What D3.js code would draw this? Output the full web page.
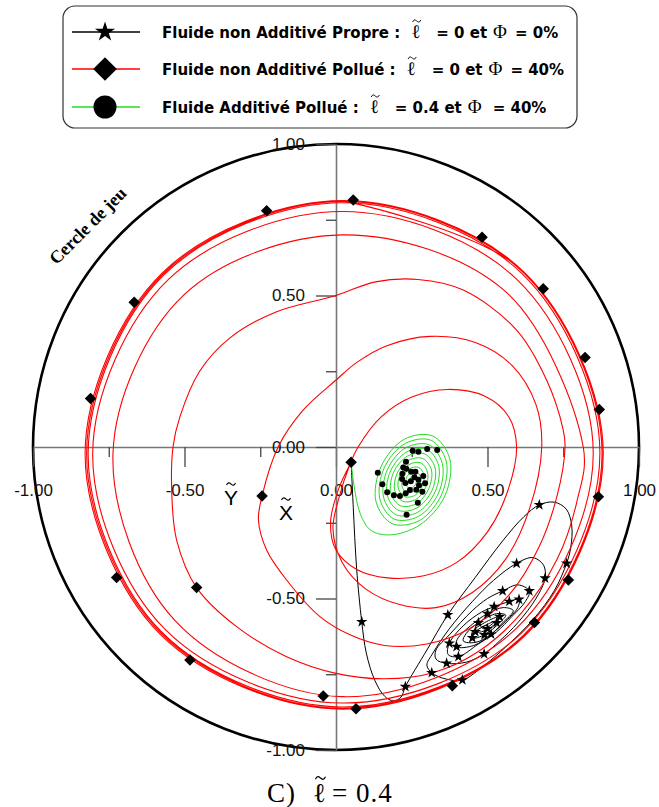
<!DOCTYPE html>
<html><head><meta charset="utf-8">
<script src="https://cdn.jsdelivr.net/npm/d3@7"></script>
<style>
body{margin:0;background:#fff;}
svg{display:block;}
text{white-space:pre;}
</style></head><body>
<svg id="chart" width="659" height="807"></svg>
<script>
// ---- Journal-centre orbits inside the clearance circle (units of clearance) ----

// Axis ticks
const majorTicks = [-1, -0.5, 0, 0.5, 1];
const majorTickLabels = ["-1.00", "-0.50", "0.00", "0.50", "1.00"];
const minorTicks = [-0.75, -0.25, 0.25, 0.75];

// Non-additive, polluted fluid (red orbit, growing towards a large whirl)
const orbitPolluted = [
  [0.05,-0.05],[0.008,-0.14],[-0.018,-0.25],[0.0,-0.34],[0.07,-0.405],[0.17,-0.432],[0.29,-0.425],[0.40,-0.38],[0.50,-0.28],[0.565,-0.15],[0.596,0],[0.57,0.10],[0.49,0.168],[0.37,0.19],[0.25,0.165],[0.15,0.10],[0.073,0],[0.045,-0.06],
  [0.012,-0.16],[-0.01,-0.27],[0.02,-0.38],[0.10,-0.47],[0.21,-0.52],[0.33,-0.53],[0.45,-0.48],[0.56,-0.37],[0.64,-0.20],[0.679,0],[0.66,0.14],[0.58,0.27],[0.46,0.345],[0.31,0.365],[0.17,0.335],[0.07,0.28],[0,0.221],[-0.11,0.12],[-0.191,0],[-0.244,-0.162],[-0.256,-0.241],[-0.229,-0.34],[-0.163,-0.439],[-0.053,-0.56],[0.046,-0.62],[0.16,-0.655],[0.30,-0.65],[0.44,-0.60],[0.57,-0.49],[0.67,-0.33],[0.73,-0.16],[0.756,0],
  [0.75,0.056],[0.695,0.221],[0.596,0.386],[0.42,0.518],[0.27,0.553],[0.13,0.545],[0,0.50],[-0.2,0.445],[-0.35,0.36],[-0.45,0.25],[-0.515,0.1],[-0.538,0],[-0.542,-0.15],[-0.526,-0.307],[-0.46,-0.464],[-0.328,-0.593],[-0.163,-0.692],[0,-0.747],[0.16,-0.765],[0.32,-0.745],[0.47,-0.675],[0.61,-0.55],[0.73,-0.37],[0.795,-0.18],[0.816,0],
  [0.556,0.516],[0.02,0.70],[-0.502,0.502],[-0.736,-0.02],[-0.532,-0.572],[0.02,-0.824],[0.597,-0.597],
  [0.849,-0.02],[0.595,0.555],[0.02,0.777],[-0.553,0.553],[-0.803,-0.02],[-0.563,-0.603],[0.02,-0.845],[0.613,-0.613],
  [0.871,-0.02],[0.613,0.573],[0.02,0.806],[-0.568,0.568],[-0.818,-0.02],[-0.573,-0.613],[0.02,-0.858],[0.62,-0.62],
  [0.878,-0.02],[0.617,0.577],[0.02,0.81],[-0.571,0.571],[-0.823,-0.02],[-0.576,-0.616],[0.02,-0.862],[0.622,-0.622],
  [0.882,-0.02],[0.619,0.579],[0.02,0.813],[-0.574,0.574],[-0.828,-0.02],[-0.579,-0.619],[0.02,-0.865],[0.623,-0.623],
  [0.882,-0.02],[0.619,0.579],[0.02,0.813]
];
const marksPolluted = [
  [0.05,-0.05],[-0.244,-0.162],[-0.46,-0.464],[-0.042,-0.822],[0.066,-0.864],[0.384,-0.788],[0.655,-0.579],
  [0.767,-0.439],[0.866,-0.164],[0.869,0.124],[0.822,0.295],[0.684,0.522],[0.482,0.692],[0.057,0.815],
  [-0.229,0.78],[-0.666,0.478],[-0.81,0.16],[-0.724,-0.431],[-0.482,-0.703]
];

// Non-additive, clean fluid (black orbit, settling to a fixed point)
const orbitClean = [
  [0.05,-0.05],[0.057,-0.2],[0.068,-0.4],[0.085,-0.577],[0.1,-0.68],[0.128,-0.77],[0.16,-0.822],[0.19,-0.838],[0.215,-0.825],[0.229,-0.791],
  [0.3,-0.67],[0.369,-0.554],[0.46,-0.43],[0.55,-0.31],[0.62,-0.23],[0.671,-0.191],[0.72,-0.182],[0.76,-0.205],[0.778,-0.26],[0.775,-0.33],[0.761,-0.384],[0.72,-0.475],[0.65,-0.57],[0.56,-0.66],[0.49,-0.72],[0.417,-0.769],[0.36,-0.765],[0.316,-0.745],
  [0.30,-0.72],[0.32,-0.68],[0.374,-0.6],[0.45,-0.51],[0.52,-0.44],[0.596,-0.384],[0.65,-0.365],[0.685,-0.39],[0.69,-0.433],[0.66,-0.5],[0.6,-0.58],[0.54,-0.64],[0.489,-0.683],[0.43,-0.71],[0.365,-0.714],[0.33,-0.70],[0.33,-0.67],
  [0.374,-0.62],[0.45,-0.54],[0.50,-0.50],[0.55,-0.475],[0.60,-0.455],[0.638,-0.475],[0.625,-0.51],[0.58,-0.56],[0.53,-0.61],[0.47,-0.65],[0.404,-0.692],[0.37,-0.685],[0.374,-0.648],
  [0.42,-0.59],[0.48,-0.545],[0.522,-0.527],[0.572,-0.51],[0.604,-0.503],[0.60,-0.53],[0.56,-0.575],[0.512,-0.618],[0.455,-0.655],[0.398,-0.659],[0.40,-0.635],
  [0.45,-0.585],[0.50,-0.55],[0.552,-0.53],[0.585,-0.54],[0.55,-0.58],[0.51,-0.62],[0.46,-0.645],[0.42,-0.64],[0.43,-0.615],
  [0.47,-0.58],[0.53,-0.55],[0.56,-0.555],[0.54,-0.58],[0.49,-0.62],[0.45,-0.63],[0.45,-0.61],
  [0.49,-0.58],[0.54,-0.56],[0.53,-0.58],[0.48,-0.61],[0.46,-0.61],
  [0.5,-0.585],[0.525,-0.575],[0.49,-0.6],[0.48,-0.595],[0.5,-0.588]
];
const marksClean = [
  [0.085,-0.577],[0.229,-0.791],[0.369,-0.554],[0.671,-0.191],[0.761,-0.384],[0.417,-0.769],[0.316,-0.745],
  [0.596,-0.384],[0.69,-0.433],[0.489,-0.683],[0.365,-0.714],[0.55,-0.475],[0.638,-0.475],[0.604,-0.503],
  [0.572,-0.51],[0.522,-0.527],[0.374,-0.648],[0.398,-0.659],[0.404,-0.692],[0.512,-0.618],
  [0.47,-0.58],[0.50,-0.55],[0.53,-0.58],[0.46,-0.61],[0.49,-0.62],[0.45,-0.63],[0.54,-0.56],[0.5,-0.6]
];

// Additive, polluted fluid (green orbit, damped spiral)
const orbitAdditive = [
  [0.05,-0.05],[0.06,-0.13],[0.08,-0.22],[0.115,-0.275],[0.18,-0.29],
  [0.277,-0.257],[0.359,-0.162],[0.376,-0.041],[0.320,0.036],[0.226,0.026],[0.149,-0.064],[0.132,-0.180],[0.185,-0.253],
  [0.275,-0.243],[0.348,-0.158],[0.364,-0.048],[0.314,0.022],[0.229,0.012],[0.159,-0.069],[0.145,-0.173],[0.192,-0.238],
  [0.272,-0.229],[0.338,-0.153],[0.351,-0.055],[0.307,0.007],[0.231,-0.002],[0.170,-0.074],[0.157,-0.166],[0.199,-0.224],
  [0.270,-0.215],[0.327,-0.148],[0.339,-0.062],[0.300,-0.008],[0.234,-0.016],[0.180,-0.079],[0.169,-0.159],[0.206,-0.209],
  [0.267,-0.201],[0.317,-0.143],[0.327,-0.069],[0.293,-0.023],[0.236,-0.030],[0.190,-0.084],[0.181,-0.152],[0.213,-0.194],
  [0.265,-0.187],[0.306,-0.138],[0.315,-0.076],[0.286,-0.038],[0.239,-0.044],[0.201,-0.089],[0.194,-0.145],[0.220,-0.179],
  [0.262,-0.174],[0.296,-0.133],[0.302,-0.083],[0.279,-0.052],[0.241,-0.058],[0.211,-0.093],[0.206,-0.138],[0.227,-0.164],
  [0.260,-0.160],[0.285,-0.128],[0.290,-0.090],[0.272,-0.067],[0.244,-0.071],[0.222,-0.098],[0.218,-0.131],[0.233,-0.150],
  [0.257,-0.146],[0.275,-0.123],[0.278,-0.097],[0.265,-0.082],[0.246,-0.085],[0.232,-0.103],[0.231,-0.124],[0.240,-0.135],
  [0.255,-0.132],[0.265,-0.118],[0.265,-0.104],[0.258,-0.097],[0.249,-0.099],[0.243,-0.108],[0.243,-0.117],[0.251,-0.112]
];
const marksAdditive = [
  [0.138,-0.085],[0.153,-0.123],[0.169,-0.149],[0.191,-0.159],[0.211,-0.162],[0.230,-0.153],[0.244,-0.142],
  [0.233,-0.224],[0.270,-0.184],[0.285,-0.148],[0.294,-0.120],[0.288,-0.096],[0.253,-0.012],[0.272,-0.016],
  [0.301,-0.007],[0.334,-0.010],[0.231,-0.049],[0.222,-0.068],
  [0.232,-0.072],[0.219,-0.088],[0.218,-0.106],[0.229,-0.119],[0.247,-0.113],[0.259,-0.100],[0.272,-0.108],
  [0.274,-0.126],[0.265,-0.141],[0.248,-0.082],[0.262,-0.082]
];

// Legend and caption text
const legendNames = ["Fluide non Additivé Propre :", "Fluide non Additivé Pollué :", "Fluide Additivé Pollué :"];
const legendEll = ["= 0 et", "= 0 et", "= 0.4 et"];
const legendPhi = ["= 0%", "= 40%", "= 40%"];
const captionLead = "C)";
const captionEll = "= 0.4";

// ---- drawing ----
const svg = d3.select("#chart");
const x = d3.scaleLinear().domain([-1, 1]).range([33, 639]);
const y = d3.scaleLinear().domain([-1, 1]).range([750, 144]);
const sans = "'Liberation Sans', Arial, sans-serif";
const heavy = "'DejaVu Sans', 'Liberation Sans', sans-serif";
const serif = "'Liberation Serif', 'Times New Roman', serif";

// small wavy accent drawn as a path
function tilde(cx, cy, w, sw) {
  const p = d3.path();
  p.moveTo(cx - w / 2, cy + w * 0.12);
  p.bezierCurveTo(cx - w / 3, cy - w * 0.28, cx - w / 8, cy - w * 0.1, cx, cy);
  p.bezierCurveTo(cx + w / 8, cy + w * 0.1, cx + w / 3, cy + w * 0.28, cx + w / 2, cy - w * 0.12);
  svg.append("path").attr("d", p.toString()).attr("fill", "none")
    .attr("stroke", "#000").attr("stroke-width", sw);
}

// clearance circle
svg.append("circle")
  .attr("cx", x(0)).attr("cy", y(0)).attr("r", x(1) - x(0))
  .attr("fill", "none").attr("stroke", "#000").attr("stroke-width", 2.6);

// axes
function styleAxis(g) {
  g.select(".domain").attr("stroke", "#777").attr("stroke-width", 1.6);
  g.selectAll(".tick line").attr("stroke", "#444").attr("stroke-width", 1.3);
  g.selectAll(".tick text").attr("font-family", sans).attr("font-size", 17).attr("fill", "#111");
}
const gxMajor = svg.append("g").attr("transform", `translate(0,${y(0)})`)
  .call(d3.axisBottom(x).tickValues(majorTicks).tickSize(20).tickSizeOuter(0).tickPadding(17)
    .tickFormat((d, i) => majorTickLabels[i]));
styleAxis(gxMajor);
const gxMinor = svg.append("g").attr("transform", `translate(0,${y(0)})`)
  .call(d3.axisBottom(x).tickValues(minorTicks).tickSize(10).tickFormat(""));
gxMinor.select(".domain").remove();
styleAxis(gxMinor);
const gyMajor = svg.append("g").attr("transform", `translate(${x(0)},0)`)
  .call(d3.axisLeft(y).tickValues(majorTicks).tickSize(20).tickSizeOuter(0).tickPadding(11)
    .tickFormat((d, i) => majorTickLabels[i]));
styleAxis(gyMajor);
const gyMinor = svg.append("g").attr("transform", `translate(${x(0)},0)`)
  .call(d3.axisLeft(y).tickValues(minorTicks).tickSize(10).tickFormat(""));
gyMinor.select(".domain").remove();
styleAxis(gyMinor);

// orbits
const line = d3.line().x(d => x(d[0])).y(d => y(d[1])).curve(d3.curveCatmullRom.alpha(0.5));
svg.append("path").datum(orbitClean).attr("d", line)
  .attr("fill", "none").attr("stroke", "#000").attr("stroke-width", 1);
svg.append("path").datum(orbitPolluted).attr("d", line)
  .attr("fill", "none").attr("stroke", "#ff0000").attr("stroke-width", 1.1);
svg.append("path").datum(orbitAdditive).attr("d", line)
  .attr("fill", "none").attr("stroke", "#22dd22").attr("stroke-width", 1);

// markers
const star = d3.symbol().type(d3.symbolStar);
const square = d3.symbol().type(d3.symbolSquare);
svg.append("g").selectAll("path").data(marksClean).join("path")
  .attr("d", star.size(40)())
  .attr("transform", d => `translate(${x(d[0])},${y(d[1])})`).attr("fill", "#000");
svg.append("g").selectAll("path").data(marksPolluted).join("path")
  .attr("d", square.size(66)())
  .attr("transform", d => `translate(${x(d[0])},${y(d[1])}) rotate(45)`).attr("fill", "#000");
svg.append("g").selectAll("circle").data(marksAdditive).join("circle")
  .attr("cx", d => x(d[0])).attr("cy", d => y(d[1])).attr("r", 3).attr("fill", "#000");

// axis titles with tilde accents
svg.append("text").attr("x", 231).attr("y", 505).attr("text-anchor", "middle")
  .attr("font-family", sans).attr("font-size", 21).text("Y");
tilde(231, 484, 9, 1.1);
svg.append("text").attr("x", 286).attr("y", 520).attr("text-anchor", "middle")
  .attr("font-family", sans).attr("font-size", 21).text("X");
tilde(286, 499, 9, 1.1);

// clearance-circle label
svg.append("text")
  .attr("transform", "translate(92,230) rotate(-45)")
  .attr("text-anchor", "middle")
  .attr("font-family", serif).attr("font-weight", "bold").attr("font-size", 18)
  .text("Cercle de jeu");

// legend
svg.append("rect").attr("x", 63).attr("y", 6).attr("width", 514).attr("height", 122).attr("rx", 12)
  .attr("fill", "#fff").attr("stroke", "#333").attr("stroke-width", 1.2);
const legendRows = [32, 69, 107];
const legendColors = ["#000", "#ff0000", "#22dd22"];
legendRows.forEach((ry, i) => {
  svg.append("line").attr("x1", 72).attr("x2", 140).attr("y1", ry).attr("y2", ry)
    .attr("stroke", legendColors[i]).attr("stroke-width", 1.3);
  if (i === 0) svg.append("path").attr("d", star.size(125)()).attr("transform", `translate(105,${ry})`);
  if (i === 1) svg.append("path").attr("d", square.size(280)()).attr("transform", `translate(105,${ry}) rotate(45)`);
  if (i === 2) svg.append("circle").attr("cx", 105).attr("cy", ry).attr("r", 11.5);
  let cx = 162;
  const parts = [
    {t: legendNames[i], gap: 11},
    {t: "ℓ", serif: true, ell: true, gap: 16},
    {t: legendEll[i], gap: 6},
    {t: "Φ", serif: true, gap: i < 2 ? 8 : 11},
    {t: legendPhi[i], gap: 0}
  ];
  parts.forEach(p => {
    const t = svg.append("text").attr("x", cx).attr("y", ry + 5.5)
      .attr("font-family", p.serif ? serif : heavy)
      .attr("font-weight", p.serif ? "normal" : "bold")
      .attr("font-size", p.serif ? 19 : 15)
      .text(p.t);
    const w = t.node().getComputedTextLength();
    if (p.ell) tilde(cx + w / 2 + 1, ry - 11, 8, 1);
    cx += w + p.gap;
  });
});

// caption
{
  let cx = 267;
  const by = 802;
  const parts = [{t: captionLead, gap: 17}, {t: "ℓ", ell: true, gap: 6}, {t: captionEll, gap: 0}];
  parts.forEach(p => {
    const t = svg.append("text").attr("x", cx).attr("y", by)
      .attr("font-family", serif).attr("font-size", 27)
      .attr("letter-spacing", p.ell ? 0 : 1)
      .text(p.t);
    const w = t.node().getComputedTextLength();
    if (p.ell) tilde(cx + w / 2 + 1, by - 24, 10, 1.2);
    cx += w + p.gap;
  });
}
</script>
</body></html>
